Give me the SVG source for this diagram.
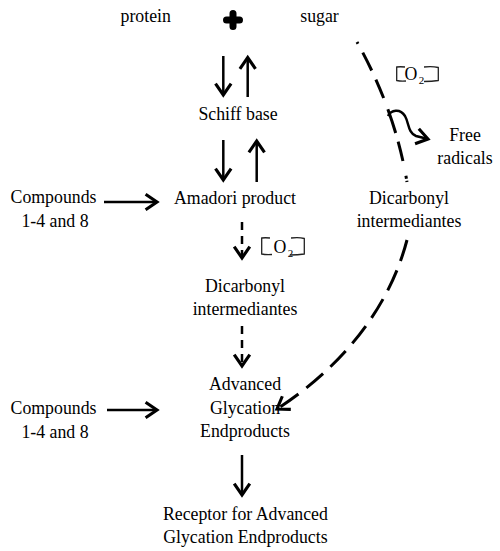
<svg xmlns="http://www.w3.org/2000/svg" width="500" height="551" viewBox="0 0 500 551">
<defs>
<style>
text{font-family:"Liberation Serif","Times New Roman",serif;font-size:17.8px;fill:#000;text-anchor:middle}
.sub{font-size:11px}
.ln{fill:none;stroke:#000;stroke-width:2.5}
.dsh{fill:none;stroke:#000;stroke-width:2.5;stroke-dasharray:8 6}
.ldsh{fill:none;stroke:#000;stroke-width:3}
.br{fill:none;stroke:#222;stroke-width:1.3}
</style>
<marker id="ah" markerUnits="userSpaceOnUse" markerWidth="24" markerHeight="24" viewBox="-14 -10 16 20" refX="0" refY="0" orient="auto">
<path d="M -9.5 -6.5 L 0 0 L -9.5 6.5" fill="none" stroke="#000" stroke-width="2.6" stroke-dasharray="none"/>
</marker>
</defs>
<g id="protein"><text x="145.7" y="22">protein</text></g>
<g id="plus"><path d="M226.5 20 H239.5 M233 13.5 V26.5" stroke="#000" stroke-width="7" stroke-linecap="round"/></g>
<g id="sugar"><text x="319.5" y="22">sugar</text></g>
<g id="schiff"><text x="238" y="119.5">Schiff base</text></g>
<g id="amadori"><text x="235" y="203.5">Amadori product</text></g>
<g id="compounds1"><text x="53.5" y="203">Compounds</text><text x="55" y="227">1-4 and 8</text></g>
<g id="dicarbonyl1"><text x="245" y="292">Dicarbonyl</text><text x="245" y="315">intermediantes</text></g>
<g id="dicarbonyl2"><text x="409" y="204">Dicarbonyl</text><text x="409" y="227">intermediantes</text></g>
<g id="freeradicals"><text x="465" y="141">Free</text><text x="465" y="164">radicals</text></g>
<g id="compounds2"><text x="53.5" y="414">Compounds</text><text x="55" y="438">1-4 and 8</text></g>
<g id="age"><text x="245" y="390">Advanced</text><text x="245" y="413.5">Glycation</text><text x="245" y="437">Endproducts</text></g>
<g id="rage"><text x="245.4" y="519.5">Receptor for Advanced</text><text x="245.4" y="542.5">Glycation Endproducts</text></g>
<g id="o2a">
<path class="br" d="M405 67 Q400 66.5 396.7 67 V80.5 Q401 81.5 406 81 M424 67 Q432 66 438.3 67.5 V80.5 Q432 81.5 424 81.5"/>
<text x="411" y="80">O</text><text class="sub" x="421.5" y="84">2</text>
</g>
<g id="o2b">
<path class="br" d="M270 238 Q265 237.5 261.7 238 V254 Q266 255 272 254.5 M291 238 Q299 237 304.3 238.5 V254 Q298 255 290 255"/>
<text x="280" y="253">O</text><text class="sub" x="290.5" y="257">2</text>
</g>
<g id="connectors">
<path class="ln" d="M223.3 56 V95" marker-end="url(#ah)"/>
<path class="ln" d="M247.7 97 V57.5" marker-end="url(#ah)"/>
<path class="ln" d="M223.3 140 V180" marker-end="url(#ah)"/>
<path class="ln" d="M256.7 182 V141" marker-end="url(#ah)"/>
<path class="ln" d="M104 202 H157" marker-end="url(#ah)"/>
<path class="ln" d="M107 410 H157" marker-end="url(#ah)"/>
<path class="dsh" d="M242 222 V258" marker-end="url(#ah)"/>
<path class="dsh" d="M242 326 V366" marker-end="url(#ah)"/>
<path class="ln" d="M242 455 V495" marker-end="url(#ah)"/>
<path class="ldsh" d="M357 42 Q395 110 407 182" stroke-dasharray="2 10 20 10 20 12 25 9 20 15 3"/>
<path class="ln" d="M388 116 C391 110 400 108 405 116 C409 123 408 133 416 136 L428 139" marker-end="url(#ah)"/>
<path class="ldsh" d="M407 240 C390 305 345 365 277 409" stroke-dasharray="22 10" marker-end="url(#ah)"/>
</g>
</svg>
